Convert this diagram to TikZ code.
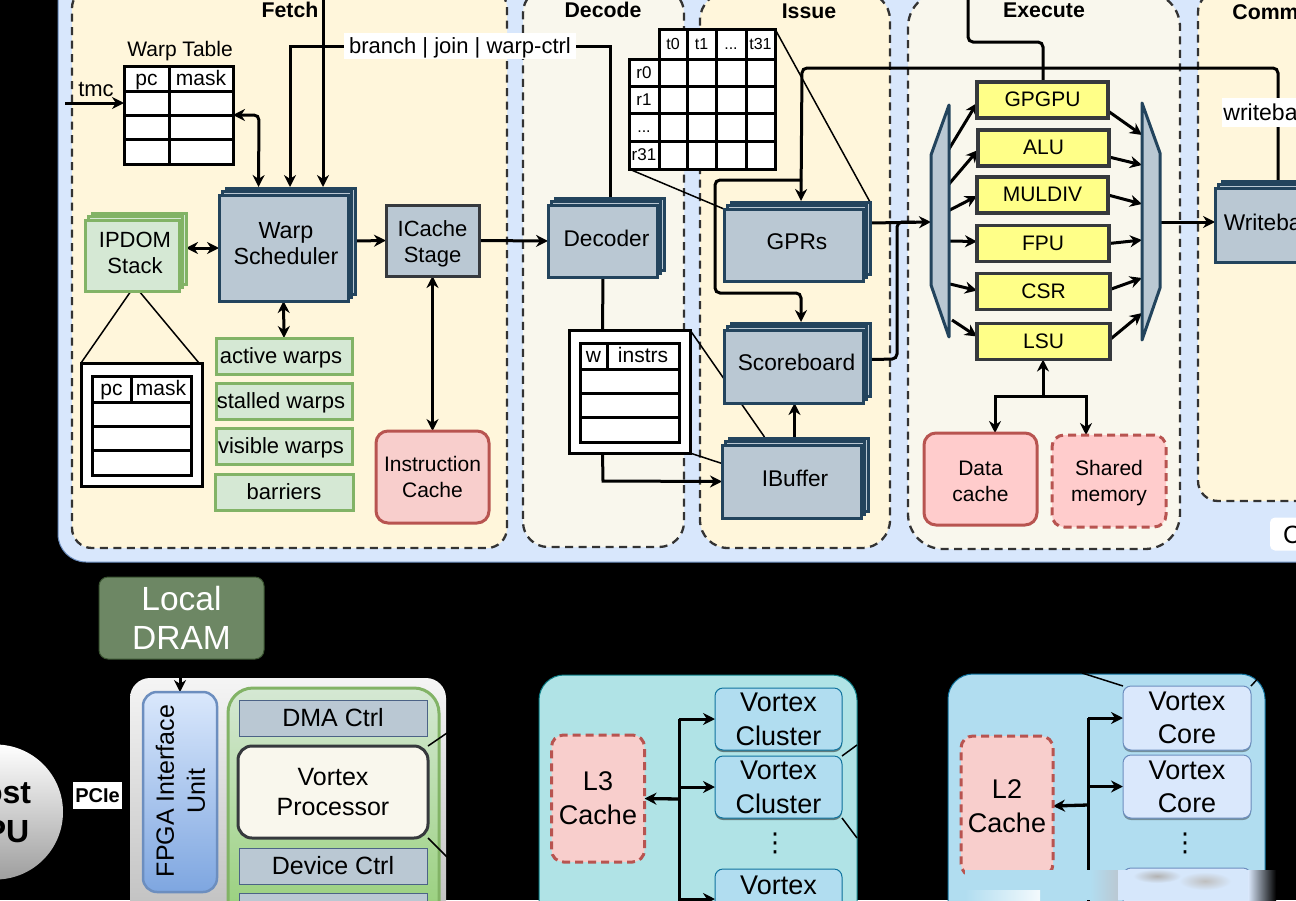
\documentclass[tikz,border=0pt]{standalone}
\usepackage{fontspec}
\setmainfont{Liberation Sans}
\newfontfamily\symfont{DejaVu Sans}
\usetikzlibrary{arrows.meta,shadows}
\definecolor{corefill}{HTML}{D8E7FC}
\definecolor{corelin}{HTML}{6C8EBF}
\definecolor{creamy}{HTML}{FFF6DB}
\definecolor{creamg}{HTML}{F9F7ED}
\definecolor{dashlin}{HTML}{333333}
\definecolor{slatefill}{HTML}{BAC8D3}
\definecolor{slatelin}{HTML}{23445D}
\definecolor{greenfill}{HTML}{D5E8D4}
\definecolor{greenlin}{HTML}{82B366}
\definecolor{greenlow}{HTML}{85C860}
\definecolor{redfill}{HTML}{F8CECC}
\definecolor{pinkfill}{HTML}{FFCCCC}
\definecolor{redlin}{HTML}{B85450}
\definecolor{unitfill}{HTML}{FFFF88}
\definecolor{unitlin}{HTML}{36393D}
\definecolor{tealfill}{HTML}{B0E3E6}
\definecolor{teallin}{HTML}{0E8088}
\definecolor{skyfill}{HTML}{B1DDF0}
\definecolor{skylin}{HTML}{10739E}
\definecolor{bluefill}{HTML}{DAE8FC}
\definecolor{bluelin}{HTML}{6C8EBF}
\definecolor{bluelow}{HTML}{7EA6E0}
\definecolor{dramfill}{HTML}{6D8764}
\definecolor{dramlin}{HTML}{3A5431}
\pgfdeclarelayer{behind}
\pgfsetlayers{behind,main}
\newcommand{\lift}[1]{\rule{0pt}{#1}}
\tikzset{
  fs/.style 2 args={font=\fontsize{#1}{#2}\selectfont},
  every node/.style={inner sep=0pt,outer sep=0pt,align=center,fs={22}{26}},
  fsline/.style={font=\fontsize{#1}{#1}\selectfont,text height=0.78*#1 pt,text depth=0.12*#1 pt},
  stagepanel/.style={draw=dashlin,line width=2.3pt,dash pattern=on 8pt off 5.5pt,rounded corners=#1},
  stagehead/.style={font=\fontsize{21.3}{25}\selectfont\bfseries},
  stackbox/.style={draw=slatelin,fill=slatefill,line width=3pt,fs={22.7}{26},
    double copy shadow={shadow xshift=3.5pt,shadow yshift=3.5pt,draw=slatelin,fill=slatefill,line width=3pt}},
  ipdombox/.style={draw=greenlin,fill=greenfill,line width=3pt,
    double copy shadow={shadow xshift=3.5pt,shadow yshift=3.5pt,draw=greenlin,fill=greenfill,line width=3pt}},
  plainslate/.style={draw=unitlin,fill=slatefill,line width=3pt},
  warpbar/.style={draw=greenlin,fill=greenfill,line width=3pt,fsline=22},
  cachebox/.style={draw=redlin,fill=redfill,line width=3pt,rounded corners=12pt},
  unitbox/.style={draw=unitlin,fill=unitfill,line width=3.3pt,minimum width=131pt,minimum height=36pt,fsline=21},
  tabcell/.style={draw=black,fill=white,line width=3pt,fsline=21},
  tabouter/.style={draw=black,fill=white,line width=3pt,minimum width=121pt,minimum height=123pt},
  wire/.style={draw=black,line width=3pt,-{Stealth[length=12pt,width=12pt]}},
  wireboth/.style={draw=black,line width=3pt,{Stealth[length=12pt,width=12pt]}-{Stealth[length=12pt,width=12pt]}},
  plainwire/.style={draw=black,line width=3pt},
  zoomline/.style={draw=black,line width=1.5pt},
  ctrlbox/.style={draw=bluelin!70!black,fill=slatefill,line width=1pt,minimum width=188pt,minimum height=36pt,fsline=25},
  clusterbox/.style={draw=skylin,fill=skyfill,line width=1pt,rounded corners=8pt,minimum width=127pt,fs={27}{34},
    drop shadow={shadow xshift=0pt,shadow yshift=-2pt,opacity=.45,fill=black}},
  corebox/.style={draw=bluelin,fill=bluefill,line width=1pt,rounded corners=8pt,minimum width=128pt,fs={27}{33},
    drop shadow={shadow xshift=0pt,shadow yshift=-2pt,opacity=.35,fill=black}},
  l3box/.style={draw=redlin,fill=redfill,line width=3pt,dash pattern=on 8pt off 5pt,rounded corners=12pt,fs={27}{34}},
  dotlabel/.style={font=\fontsize{26}{30}\symfont},
}
\begin{document}
\begin{tikzpicture}[x=1pt,y=-1pt]
  \useasboundingbox (0,0) rectangle (1296,900);
  \clip (0,0) rectangle (1296,900);
  % panels
  \begin{pgfonlayer}{behind}
    \fill[black] (0,0) rectangle (1296,900);
    \node[draw=corelin,fill=corefill,line width=1pt,rounded corners=28pt,minimum width=1342pt,minimum height=602pt] (corepanel) at (729,261) {};
    \node[stagepanel=20pt,fill=creamy,minimum width=435pt,minimum height=560pt] (fetchpanel) at (289.5,268) {};
    \node[stagepanel=25pt,fill=creamg,minimum width=161pt,minimum height=559pt] (decodepanel) at (603.5,267.5) {};
    \node[stagepanel=28pt,fill=creamy,minimum width=190pt,minimum height=556pt] (issuepanel) at (795,270) {};
    \node[stagepanel=35pt,fill=creamg,minimum width=272pt,minimum height=557pt] (execpanel) at (1044,270.5) {};
    \node[stagepanel=20pt,fill=creamy,minimum width=202pt,minimum height=509pt] (commitpanel) at (1299,246.5) {};
    \node[fill=white,rounded corners=5pt,minimum width=70pt,minimum height=33pt] (corelabel) at (1305,534) {};
    \node[top color=white!96!black,bottom color=black!30,rounded corners=20pt,minimum width=316pt,minimum height=300pt] (fpgapanel) at (288,828) {};
    \node[draw=greenlin,line width=3pt,top color=greenfill,bottom color=greenlow,rounded corners=25pt,minimum width=211pt,minimum height=300pt] (procpanel) at (333.5,838) {};
    \node[draw=teallin,fill=tealfill,line width=1pt,rounded corners=25pt,minimum width=318pt,minimum height=300pt] (l3panel) at (698,825) {};
    \node[draw=skylin,fill=skyfill,line width=1pt,rounded corners=25pt,minimum width=317pt,minimum height=300pt] (l2panel) at (1106.5,824) {};
  \end{pgfonlayer}

  % stage titles
  \node[stagehead] (fetchhead) at (290,10) {Fetch};
  \node[stagehead] (decodehead) at (603,10) {Decode};
  \node[stagehead] (issuehead) at (809,11) {Issue};
  \node[stagehead] (exechead) at (1044,10) {Execute};
  \node[stagehead] (commithead) at (1272,12) {Commit};
  \node[fs={25}{30},anchor=west] (coretext) at (1283,535) {C};

  % fetch
  \node[fsline=21] (warptabhead) at (180,50) {Warp Table};
  \node[tabcell,minimum width=45pt,minimum height=25pt] (wtpc) at (146.5,78.5) {pc};
  \node[tabcell,minimum width=64pt,minimum height=25pt] (wtmask) at (201,78.5) {mask};
  \foreach \r/\y/\h in {1/103/24,2/127/24,3/151.5/25} {
    \node[tabcell,minimum width=45pt,minimum height=\h pt] (wtpc\r) at (146.5,\y) {};
    \node[tabcell,minimum width=64pt,minimum height=\h pt] (wtmask\r) at (201,\y) {};
  }
  \coordinate (tmcin) at (65,103);
  \node (tmclabel) at (96,89) {tmc};
  \node[stackbox,fs={23.3}{26},text depth=9.5pt,minimum width=129pt,minimum height=106pt] (warpsched) at (283.5,248) {\hspace*{5pt}Warp\\\hspace*{5pt}Scheduler};
  \node[plainslate,text depth=0pt,minimum width=93pt,minimum height=71pt] (icachest) at (432.5,240.5) {\lift{18pt}ICache\\Stage};
  \node[ipdombox,text depth=6pt,minimum width=94pt,minimum height=71pt] (ipdom) at (132,255.5) {\hspace*{6pt}IPDOM\\\hspace*{6pt}Stack};
  \node[tabouter] (ipdomtab) at (141.5,424.5) {};
  \node[tabcell,minimum width=39pt,minimum height=26pt] (ipc) at (111.5,389) {pc};
  \node[tabcell,minimum width=60pt,minimum height=26pt] (imask) at (161,389) {mask};
  \foreach \r/\y/\h in {1/414/24,2/438/24,3/462.5/25}
    \node[tabcell,minimum width=99pt,minimum height=\h pt] (irow\r) at (141.5,\y) {};
  \node[warpbar,minimum width=136pt,minimum height=36pt] (activew) at (284,356) {\hspace*{-6pt}active warps};
  \node[warpbar,minimum width=136pt,minimum height=36pt] (stalledw) at (284,401) {\hspace*{-6pt}stalled warps};
  \node[warpbar,minimum width=136pt,minimum height=36pt] (visiblew) at (284,446) {\hspace*{-6pt}visible warps};
  \node[warpbar,minimum width=138pt,minimum height=36pt] (barriersw) at (284,492) {barriers};
  \node[cachebox,fs={21}{26},minimum width=113pt,minimum height=92pt] (icache) at (432.5,477) {Instruction\\Cache};
  \coordinate (branchtop) at (323,-5);

  % decode
  \node[stackbox,text depth=6pt,minimum width=109pt,minimum height=72pt] (decoder) at (602.5,241) {\hspace*{8pt}Decoder};
  \node[tabouter] (ibuftab) at (629.5,391.5) {};
  \node[tabcell,minimum width=27pt,minimum height=26pt] (ibw) at (593.5,356) {w};
  \node[tabcell,minimum width=72pt,minimum height=26pt] (ibinstrs) at (643,356) {instrs};
  \foreach \r/\y/\h in {1/381/24,2/405/24,3/429.5/25}
    \node[tabcell,minimum width=99pt,minimum height=\h pt] (ibrow\r) at (629.5,\y) {};

  % register table
  \node[tabcell,fsline=16,minimum width=28pt,minimum height=30pt] (regt0) at (673,44) {t0};
  \node[tabcell,fsline=16,minimum width=29pt,minimum height=30pt] (regt1) at (701.5,44) {t1};
  \node[tabcell,fsline=16,minimum width=30pt,minimum height=30pt] (regtd) at (731,44) {...};
  \node[tabcell,fsline=16,minimum width=29pt,minimum height=30pt] (regt31) at (760.5,44) {t31};
  \node[tabcell,fsline=17,minimum width=30pt,minimum height=27pt] (regr0) at (644,72.5) {r0};
  \node[tabcell,fsline=17,minimum width=30pt,minimum height=27pt] (regr1) at (644,99.5) {r1};
  \node[tabcell,fsline=16,minimum width=30pt,minimum height=28pt] (regrd) at (644,127) {...};
  \node[tabcell,fsline=17,minimum width=30pt,minimum height=28pt] (regr31) at (644,155) {r31};
  \foreach \cx/\cw in {673/28,701.5/29,731/30,760.5/29}
    \foreach \cy/\ch in {72.5/27,99.5/27,127/28,155/28}
      \node[tabcell,minimum width=\cw pt,minimum height=\ch pt] at (\cx,\cy) {};

  % issue
  \node[stackbox,text depth=6pt,minimum width=139pt,minimum height=72pt] (gprs) at (793.5,245) {\hspace*{7pt}GPRs};
  \node[stackbox,text depth=8pt,minimum width=139pt,minimum height=73pt] (scoreb) at (793.5,366.5) {\hspace*{6pt}Scoreboard};
  \node[stackbox,text depth=6pt,minimum width=139pt,minimum height=73pt] (ibuffer) at (791.5,481.5) {\hspace*{7pt}IBuffer};

  % execute
  \draw[draw=slatelin,fill=slatefill,line width=3pt,line join=round] (949,105) -- (931,155) -- (931,285) -- (949,337) -- cycle;
  \draw[draw=slatelin,fill=slatefill,line width=3pt,line join=round] (1142,103) -- (1160,153) -- (1160,288) -- (1142,340) -- cycle;
  \coordinate (muxin) at (931,222);
  \coordinate (muxout) at (1160,222);
  \node[unitbox] (gpgpu) at (1042.5,100) {GPGPU};
  \node[unitbox] (alu) at (1043.5,148) {ALU};
  \node[unitbox] (muldiv) at (1042.5,195) {MULDIV};
  \node[unitbox,minimum width=132pt] (fpu) at (1043,243.5) {FPU};
  \node[unitbox,minimum width=133pt] (csr) at (1043.5,291.5) {CSR};
  \node[unitbox,minimum width=133pt] (lsu) at (1043.5,341.5) {LSU};
  \node[cachebox,fill=pinkfill,fs={21}{26},minimum width=113pt,minimum height=92pt] (dcache) at (980.5,479) {\lift{19pt}Data\\cache};
  \node[cachebox,fill=pinkfill,fs={21}{26},text depth=0pt,dash pattern=on 8pt off 5pt,minimum width=114pt,minimum height=92pt] (smem) at (1109,481) {Shared\\memory};

  % commit
  \node[stackbox,text depth=6pt,minimum width=118pt,minimum height=74pt] (writeback) at (1274,225) {Writeback};
  \node[fill=white,fs={23}{26},minimum width=110pt,minimum height=29pt] (wblabel) at (1277,112.5) {\hspace*{-10pt}writeback};
  \node[fill=white,fsline=22,minimum width=232pt,minimum height=26pt] (branchlabel) at (460,46) {branch | join | warp-ctrl};

  % bottom row
  \node[draw=dramlin,fill=dramfill,text=white,line width=1pt,rounded corners=9pt,fs={33.5}{39.5},minimum width=165pt,minimum height=82pt] (dram) at (181.5,618) {Local\\DRAM};
  \node[circle,top color=white,bottom color=black!38,minimum size=135pt,font=\fontsize{32}{39}\selectfont\bfseries] (hostcpu) at (-4.5,812) {Host\\CPU};
  \node[fill=white,font=\fontsize{20}{24}\selectfont\bfseries,minimum width=49pt,minimum height=27pt] (pcie) at (97.5,795.5) {PCIe};
  \node[draw=bluelin,line width=2.5pt,top color=bluefill,bottom color=bluelow,rounded corners=14pt,minimum width=74pt,minimum height=200pt] (fpgaunit) at (180,792) {};
  \node[rotate=90,fs={25}{31}] (fpgatext) at (180.5,791) {FPGA Interface\\Unit};
  \node[ctrlbox] (dmactrl) at (333,718) {DMA Ctrl};
  \node[draw=unitlin,fill=creamg,line width=3pt,rounded corners=14pt,fs={25}{30},minimum width=190pt,minimum height=92pt] (vortexproc) at (333,792) {Vortex\\Processor};
  \node[ctrlbox] (devctrl) at (333,866) {Device Ctrl};
  \node[ctrlbox] (lastctrl) at (333,911) {};

  \node[clusterbox,minimum height=62pt] (cluster1) at (778.5,719) {Vortex\\Cluster};
  \node[clusterbox,minimum height=62pt] (cluster2) at (778.5,787) {Vortex\\Cluster};
  \node[clusterbox,minimum height=66pt] (cluster3) at (778.5,902) {Vortex\\Cluster};
  \node[dotlabel] (clusterdots) at (775,843) {⋮};
  \node[l3box,minimum width=93pt,minimum height=127pt] (l3cache) at (598,798.5) {L3\\Cache};
  \coordinate (l3bus) at (679,799);

  \node[corebox,minimum height=64pt] (core1) at (1187,718) {Vortex\\Core};
  \node[corebox,minimum height=63pt] (core2) at (1187,786.5) {Vortex\\Core};
  \node[corebox,minimum height=64pt] (core3) at (1187,900) {};
  \node[dotlabel] (coredots) at (1185,843) {⋮};
  \node[l3box,minimum width=92pt,minimum height=140pt] (l2cache) at (1007,806) {L2\\Cache};
  \coordinate (l2bus) at (1088,805);

  % connectors
  \begin{pgfonlayer}{behind}
    \draw[wire] (tmcin) -- (wtpc1.west);
    \draw[wireboth,rounded corners=5pt] (wtmask1.south east) -- (259,115) -- ([xshift=-25pt,yshift=8pt]warpsched.north);
    \draw[wire] (branchlabel.west) -- (290,46) -- ([xshift=6.5pt,yshift=8pt]warpsched.north);
    \draw[wire] (branchtop) -- ([xshift=39.5pt,yshift=8pt]warpsched.north);
    \draw[plainwire] (branchlabel.east) -- (610,46) -- ([xshift=7.5pt,yshift=8pt]decoder.north);
    \draw[wireboth] ([xshift=7pt,yshift=7.5pt]ipdom.east) -- (warpsched.west);
    \draw[wire] ([xshift=7pt,yshift=7pt]warpsched.east) -- (icachest.west);
    \draw[wire] (icachest.east) -- (decoder.west);
    \draw[wireboth] (icachest.south) -- (icache.north);
    \draw[wireboth] (warpsched.south) -- (activew.north);
    \draw[zoomline] ([xshift=-1pt]ipdom.south) -- (ipdomtab.north west);
    \draw[zoomline] ([xshift=7pt]ipdom.south) -- ([xshift=-3pt]ipdomtab.north east);
    \draw[plainwire] ([xshift=0.5pt]decoder.south) -- (ibuftab.north -| decoder.south);
    \draw[wire] (ibuftab.south -| decoder.south) -- (603,481) -- (ibuffer.west);
    \draw[zoomline] (ibuftab.north east) -- ([xshift=-27pt,yshift=8pt]ibuffer.north);
    \draw[zoomline] (ibuftab.south east) -- ([yshift=18pt]ibuffer.west);
    \draw[zoomline] (regt31.north east) -- ([xshift=7pt,yshift=7pt]gprs.north east);
    \draw[zoomline] (regr31.south west) -- ([yshift=0pt]gprs.north west);
    \draw[wire,rounded corners=5pt] ([xshift=4pt,yshift=7pt]writeback.north) -- (1278,68) -- (802,68) -- ([xshift=7.5pt,yshift=8pt]gprs.north);
    \draw[wire,rounded corners=5pt] (802,180) -- (715,180) -- (715,293) -- (801,293) -- ([xshift=7.5pt,yshift=8pt]scoreb.north);
    \draw[wire,line width=3.3pt] ([xshift=3pt,yshift=8pt]ibuffer.north) -- ([xshift=1pt]scoreb.south);
    \draw[plainwire,rounded corners=5pt] ([xshift=7pt,yshift=7pt]scoreb.east) -- (897,359) -- (897,222) -- (915,222);
    \draw[wire] ([xshift=7pt,yshift=22pt]gprs.east) -- (muxin);
    \draw[wire] (muxout) -- ([yshift=3pt]writeback.west);
    \draw[plainwire,rounded corners=5pt] (968,-5) -- (968,42) -- (1043,42) -- ([xshift=.5pt]gpgpu.north);
    \foreach \i/\px/\py/\unit/\dy in {1/949/149/gpgpu/-3,2/949/184/alu/-2,3/946/212/muldiv/-1,4/949/241/fpu/2,5/950/284/csr/1,6/952/320/lsu/5} {
      \coordinate (muxl\i) at (\px,\py);
      \draw[wire] (muxl\i) -- ([yshift=\dy pt]\unit.west);
    }
    \foreach \i/\py/\unit/\dy in {1/135/gpgpu/-11,2/165/alu/-9,3/204/muldiv/0,4/240/fpu/0,5/278/csr/2,6/313/lsu/2} {
      \coordinate (muxr\i) at (1142,\py);
      \draw[wire] ([yshift=\dy pt]\unit.east) -- (muxr\i);
    }
    \coordinate (lsubus) at (1043,396);
    \draw[wire] (lsubus) -- (lsu.south -| lsubus);
    \draw[wire] (lsubus) -- (995,396) -- (dcache.north -| 995,0);
    \draw[wire] (lsubus) -- (1086,396) -- (smem.north -| 1086,0);
    \draw[wire] (dram.south -| fpgaunit.north) -- (fpgaunit.north);
    \draw[zoomline] (vortexproc.north east) -- (447,733);
    \draw[zoomline] (vortexproc.south east) -- (447,857);
    \draw[plainwire] (l3bus |- cluster1.west) -- (l3bus |- 0,905);
    \draw[wire] (l3bus |- cluster1.west) -- (cluster1.west);
    \draw[wire] (l3bus |- cluster2.west) -- (cluster2.west);
    \draw[wire] (l3bus |- 0,899) -- ([yshift=3pt]cluster3.west);
    \draw[wire,line width=3.3pt] (l3bus) -- (l3cache.east);
    \draw[zoomline] ([yshift=-6pt]cluster1.south east) -- (857,745);
    \draw[zoomline] (cluster2.south east) -- (857,838);
    \draw[plainwire] (l2bus |- core1.west) -- (l2bus |- 0,905);
    \draw[wire] (l2bus |- core1.west) -- (core1.west);
    \draw[wire] (l2bus |- core2.west) -- (core2.west);
    \draw[wire,line width=3.3pt] (l2bus) -- (l2cache.east);
    \draw[zoomline] (core1.north west) -- (1082,673);
    \draw[zoomline] (core1.north east) -- (1262,674);
  \end{pgfonlayer}

  % smudged patch at the lower right corner
  \fill[skyfill] (965,870) rectangle (1105,900);
  \shade[left color=skyfill,right color=white!85!skyfill] (965,890) rectangle (1040,900);
  \shade[left color=skyfill,right color=slatefill] (1090,870) rectangle (1118,900);
  \fill[bluefill!90!skyfill] (1118,870) rectangle (1248,900);
  \shade[inner color=black!30,outer color=bluefill!90!skyfill] (1157,876) ellipse (24pt and 7pt);
  \shade[inner color=black!25,outer color=bluefill!90!skyfill] (1205,881) ellipse (26pt and 9pt);
  \shade[left color=bluefill,right color=black] (1248,870) rectangle (1276,900);
\end{tikzpicture}
\end{document}
